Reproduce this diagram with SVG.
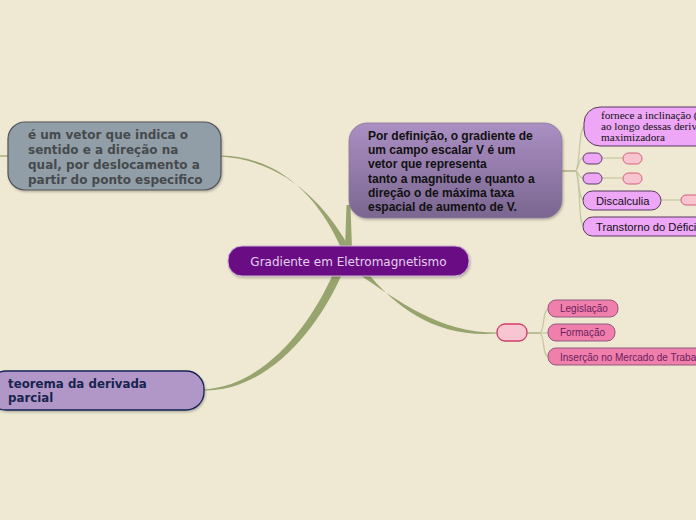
<svg xmlns="http://www.w3.org/2000/svg" width="696" height="520" viewBox="0 0 696 520">
<defs>
<linearGradient id="gPurple" x1="0" y1="0" x2="0" y2="1">
<stop offset="0" stop-color="#ab8fc3"/>
<stop offset="1" stop-color="#7a6690"/>
</linearGradient>
<filter id="sh" x="-10%" y="-20%" width="130%" height="150%">
<feDropShadow dx="1" dy="1.5" stdDeviation="1" flood-color="#000" flood-opacity="0.25"/>
</filter>
<style>
.thick{fill:#97a46e;stroke:none}
.thin{fill:none;stroke:#c4c7a2;stroke-width:1.2}
.mid{fill:none;stroke:#a3ab80;stroke-width:1.4}
.sub{fill:#eea6f6;stroke:#5a3a60;stroke-width:1}
.pk{fill:#f8c4cf;stroke:#d2607e;stroke-width:1}
.pk2{fill:#f07fab;stroke:#8f5a80;stroke-width:1}
.t-dv{font-family:"DejaVu Sans",Verdana,sans-serif}
.t-ar{font-family:"Liberation Sans",Arial,sans-serif}
.t-se{font-family:"Liberation Serif","Times New Roman",serif}
</style>
</defs>
<rect width="696" height="520" fill="#efe8d2"/>
<g id="connectors">
<path class="mid" d="M0,156 L9,156"/>
<path class="thick" d="M221,155.5 C285,157 322,204 342,250 L351,250 C327,207 287,161 221,156.6 Z"/>
<path class="thick" d="M345,250 L346.5,205 L350.5,205 L352,250 Z"/>
<path class="thick" d="M204,389.5 C264,386 310,326 333,274 L342,274 C318,329 268,391 204,390.6 Z"/>
<path class="thick" d="M357,273 C400,302 440,333 497,332.5 L497,333.6 C437,338 397,309 366,271 Z"/>
<path class="mid" d="M562,171 L576,171"/>
<path class="thin" d="M576,171 C581,160 578,128 585,126"/>
<path class="thin" d="M576,171 C580,165 578,158 584,158"/>
<path class="thin" d="M576,171 C580,174 578,178 584,178"/>
<path class="thin" d="M576,171 C580,180 578,200 584,200"/>
<path class="thin" d="M576,171 C581,185 578,226 584,226"/>
<path class="thin" d="M602,158 L623,158"/>
<path class="thin" d="M602,178 L623,178"/>
<path class="thin" d="M661,200 L681,200"/>
<path class="mid" d="M527,333 L540,333"/>
<path class="thin" d="M540,333 C545,330 542,309 549,309"/>
<path class="thin" d="M540,333 L549,333"/>
<path class="thin" d="M540,333 C545,336 542,357 549,357"/>
</g>
<g id="central">
<rect x="228" y="246" width="241" height="30" rx="14" fill="#6a0785" stroke="#c9b4d6" stroke-width="1" filter="url(#sh)"/>
<text x="348.5" y="266" text-anchor="middle" class="t-dv" font-size="12" fill="#e4d0ec">Gradiente em Eletromagnetismo</text>
</g>
<g id="node-vetor">
<rect x="8" y="122" width="213" height="68" rx="17" fill="#929ea7" stroke="#4e5458" stroke-width="1.2" filter="url(#sh)"/>
<text class="t-dv" font-size="12" font-weight="bold" fill="#464a4c">
<tspan x="28" y="139">é um vetor que indica o</tspan>
<tspan x="28" y="154">sentido e a direção na</tspan>
<tspan x="28" y="169">qual, por deslocamento a</tspan>
<tspan x="28" y="184">partir do ponto especifico</tspan>
</text>
</g>
<g id="node-definicao">
<rect x="349" y="123" width="213" height="95" rx="18" fill="url(#gPurple)" stroke="#8a7a98" stroke-width="0.8" filter="url(#sh)"/>
<text class="t-ar" font-size="12" font-weight="bold" fill="#111">
<tspan x="368" y="140">Por definição, o gradiente de</tspan>
<tspan x="368" y="154">um campo escalar V é um</tspan>
<tspan x="368" y="168">vetor que representa</tspan>
<tspan x="368" y="183">tanto a magnitude e quanto a</tspan>
<tspan x="368" y="197">direção o de máxima taxa</tspan>
<tspan x="368" y="211">espacial de aumento de V.</tspan>
</text>
</g>
<g id="node-inclinacao">
<rect x="584" y="107" width="130" height="39" rx="16" class="sub"/>
<text class="t-se" font-size="11.2" fill="#111">
<tspan x="601" y="119">fornece a inclinação (</tspan>
<tspan x="601" y="130">ao longo dessas deriva</tspan>
<tspan x="601" y="141">maximizadora</tspan>
</text>
</g>
<g id="node-s1"><rect x="583" y="153" width="19" height="11" rx="5.5" class="sub"/></g>
<g id="node-s1b"><rect x="623" y="153" width="19" height="11" rx="5.5" class="pk"/></g>
<g id="node-s2"><rect x="583" y="173" width="19" height="11" rx="5.5" class="sub"/></g>
<g id="node-s2b"><rect x="623" y="173" width="19" height="11" rx="5.5" class="pk"/></g>
<g id="node-discalculia">
<rect x="583" y="191" width="78" height="19" rx="9.5" class="sub"/>
<text x="596" y="205" class="t-ar" font-size="11.2" fill="#111">Discalculia</text>
</g>
<g id="node-disc-b"><rect x="681" y="195" width="30" height="10" rx="5" class="pk"/></g>
<g id="node-transtorno">
<rect x="583" y="217" width="130" height="19" rx="9.5" class="sub"/>
<text x="596" y="231" class="t-ar" font-size="11.2" fill="#111">Transtorno do Défici</text>
</g>
<g id="node-hub">
<rect x="497" y="324" width="30" height="17" rx="8" fill="#f8c6d0" stroke="#d23d6a" stroke-width="1.3"/>
</g>
<g id="node-legislacao">
<rect x="548" y="300" width="70" height="17" rx="8" class="pk2"/>
<text x="560" y="312" class="t-ar" font-size="10" fill="#6a2060">Legislação</text>
</g>
<g id="node-formacao">
<rect x="548" y="324" width="67" height="17" rx="8" class="pk2"/>
<text x="560" y="336" class="t-ar" font-size="10" fill="#6a2060">Formação</text>
</g>
<g id="node-insercao">
<rect x="548" y="348" width="160" height="17" rx="8" class="pk2"/>
<text x="560" y="360.5" class="t-ar" font-size="10" fill="#6a2060">Inserção no Mercado de Traba</text>
</g>
<g id="node-teorema">
<rect x="-12" y="371" width="216" height="39" rx="18" fill="#b196c8" stroke="#142456" stroke-width="1.3" filter="url(#sh)"/>
<text class="t-dv" font-size="11.8" font-weight="bold" fill="#18244e">
<tspan x="8" y="388">teorema da derivada</tspan>
<tspan x="8" y="402">parcial</tspan>
</text>
</g>
</svg>
